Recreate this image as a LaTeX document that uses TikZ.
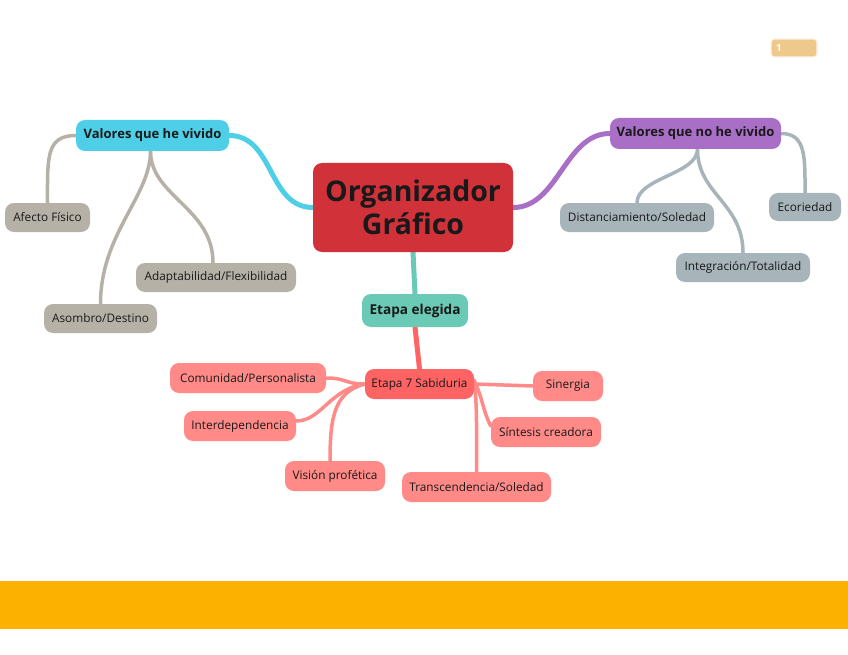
\documentclass[tikz,border=0pt]{standalone}
\usepackage{fontspec}
\setmainfont{Open Sans}
\usepackage{tikz}
\usetikzlibrary{positioning, calc, backgrounds}

\definecolor{bandorange}{HTML}{FCB000}
\definecolor{mainred}{HTML}{D1323A}
\definecolor{cyanbr}{HTML}{4ECFE7}
\definecolor{purplebr}{HTML}{A96FC7}
\definecolor{tealbr}{HTML}{6ACAB6}
\definecolor{salmonbr}{HTML}{FF6363}
\definecolor{pinkleaf}{HTML}{FF8A88}
\definecolor{beigeleaf}{HTML}{B6B1A7}
\definecolor{blueleaf}{HTML}{A7B4BA}
\definecolor{badge}{HTML}{EFC98B}

\begin{document}
\begin{tikzpicture}[
        x=1pt, y=-1pt,
        box/.style={rounded corners=9pt, inner sep=0pt, text=black!90, align=center},
        leaf/.style={box, minimum height=29pt, font=\fontsize{11.8}{14}\selectfont},
        branchnode/.style={box, minimum height=31pt, font=\bfseries\fontsize{13}{15}\selectfont},
        mainline/.style={line width=5pt, line cap=round},
        subline/.style={line width=3.5pt, line cap=round}
    ]
        \useasboundingbox (0,0) rectangle (848,655);
        % Band and page badge
        \fill[bandorange] (0,581) rectangle (848,629);
        \node[box, rounded corners=3pt, fill=badge, draw=white!80!badge, line width=1.2pt, minimum width=46pt, minimum height=18pt, text=white, font=\bfseries\fontsize{10}{11}\selectfont, text width=36pt, align=left] (page) at (794,48) {1};

        % Nodes
        \node[box, fill=mainred, minimum width=200pt, minimum height=89pt, font=\bfseries\fontsize{28.5}{33}\selectfont] (org) at (413,207.5) {Organizador\\Gráfico};
        \node[branchnode, fill=cyanbr, minimum width=153pt] (vivido) at (152.5,135.5) {Valores que he vivido};
        \node[branchnode, fill=purplebr, minimum width=171pt] (novivido) at (695.5,133.5) {Valores que no he vivido};
        \node[box, fill=tealbr, minimum width=106pt, minimum height=33pt, font=\bfseries\fontsize{13.6}{16}\selectfont] (elegida) at (415,310.5) {Etapa elegida};
        \node[leaf, fill=salmonbr, minimum width=109pt, minimum height=30pt] (etapa) at (419.5,384) {Etapa 7 Sabiduria};

        % Leaves, left
        \node[leaf, fill=beigeleaf, minimum width=85pt] (afecto) at (47.5,217.5) {Afecto Físico};
        \node[leaf, fill=beigeleaf, minimum width=160pt] (adapt) at (216,277.5) {Adaptabilidad/Flexibilidad};
        \node[leaf, fill=beigeleaf, minimum width=113pt] (asombro) at (100.5,318.5) {Asombro/Destino};

        % Leaves, right
        \node[leaf, fill=blueleaf, minimum width=154pt] (distan) at (637,217.5) {Distanciamiento/Soledad};
        \node[leaf, fill=blueleaf, minimum width=134pt] (integ) at (743,267.5) {Integración/Totalidad};
        \node[leaf, fill=blueleaf, minimum width=72pt, minimum height=28pt] (ecor) at (805,207) {Ecoriedad};

        % Leaves, bottom
        \node[leaf, fill=pinkleaf, minimum width=156pt, minimum height=30pt] (comun) at (248,378) {Comunidad/Personalista};
        \node[leaf, fill=pinkleaf, minimum width=112pt, minimum height=30pt] (interd) at (240,426) {Interdependencia};
        \node[leaf, fill=pinkleaf, minimum width=100pt, minimum height=30pt] (vision) at (335,476) {Visión profética};
        \node[leaf, fill=pinkleaf, minimum width=149pt, minimum height=30pt] (transc) at (476.5,487) {Transcendencia/Soledad};
        \node[leaf, fill=pinkleaf, minimum width=110pt, minimum height=30pt] (sintesis) at (546,432) {Síntesis creadora};
        \node[leaf, fill=pinkleaf, minimum width=70pt, minimum height=30pt] (sinergia) at (568,386) {Sinergia};

        % Lines
        \begin{scope}[on background layer]
        \draw[mainline, cyanbr] (org.west) .. controls +(-45,0) and +(45,0) .. (vivido.east);
        \draw[mainline, purplebr] (org.east) .. controls +(45,0) and +(-45,0) .. (novivido.west);
        \draw[mainline, tealbr] (org.south) -- (elegida.north);
        \draw[mainline, salmonbr] (elegida.south) -- (etapa.north);

        % Lines, left
        \draw[subline, beigeleaf] (vivido.west) .. controls +(-30,0) and +(0,-45) .. (afecto.north);
        \draw[subline, beigeleaf] ([xshift=-2pt]vivido.south) .. controls +(0,45) and +(0,-70) .. (asombro.north);
        \draw[subline, beigeleaf] ([xshift=-2pt]vivido.south) .. controls +(0,45) and +(0,-55) .. ([xshift=-3pt]adapt.north);

        % Lines, right
        \draw[subline, blueleaf] ([xshift=2pt]novivido.south) .. controls +(0,25) and +(0,-25) .. (distan.north);
        \draw[subline, blueleaf] ([xshift=2pt]novivido.south) .. controls +(0,45) and +(0,-50) .. (integ.north);
        \draw[subline, blueleaf] (novivido.east) .. controls +(25,0) and +(0,-35) .. (ecor.north);

        % Lines, bottom
        \draw[subline, pinkleaf] (etapa.west) .. controls +(-20,0) and +(20,0) .. (comun.east);
        \draw[subline, pinkleaf] (etapa.west) .. controls +(-35,5) and +(25,0) .. ([yshift=5pt]interd.east);
        \draw[subline, pinkleaf] (etapa.west) .. controls +(-30,8) and +(0,-45) .. ([xshift=-5pt]vision.north);
        \draw[subline, pinkleaf] (etapa.east) -- (sinergia.west);
        \draw[subline, pinkleaf] ([yshift=3pt]etapa.east) .. controls +(8,15) and +(-8,-15) .. ([yshift=6pt]sintesis.west);
        \draw[subline, pinkleaf] ([yshift=4pt]etapa.east) .. controls +(3,25) and +(0,-40) .. (transc.north);
        \end{scope}
    \end{tikzpicture}
\end{document}
